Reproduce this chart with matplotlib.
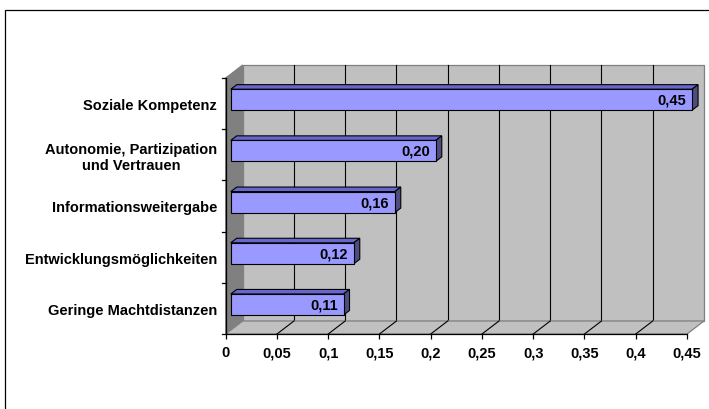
import matplotlib
matplotlib.use("Agg")
import numpy as np
import matplotlib.pyplot as plt
from matplotlib.patches import Polygon, Rectangle
from matplotlib.transforms import ScaledTranslation

# Data
categories = ["Soziale Kompetenz", "Autonomie, Partizipation\nund Vertrauen",
              "Informationsweitergabe", "Entwicklungsmöglichkeiten",
              "Geringe Machtdistanzen"]
values = [0.45, 0.20, 0.16, 0.12, 0.11]
value_labels = ["0,45", "0,20", "0,16", "0,12", "0,11"]
xticks = [0, 0.05, 0.1, 0.15, 0.2, 0.25, 0.3, 0.35, 0.4, 0.45]
xtick_labels = ["0", "0,05", "0,1", "0,15", "0,2", "0,25", "0,3", "0,35", "0,4", "0,45"]

FONT = "Liberation Sans"
FS = 10.5
DPI = 100
W, H = 709, 410

fig = plt.figure(figsize=(W / DPI, H / DPI), dpi=DPI)
fig.patch.set_facecolor("white")

# Outer chart frame
fig.patches.append(Rectangle((4.5 / W, -0.1), 1.2, 1 - 10.5 / H + 0.1,
                             transform=fig.transFigure, fill=False,
                             edgecolor="black", linewidth=0.9))

# Front plane of the 3D plot
left_px, right_px, top_px, bot_px = 225.7, 687.0, 79.0, 335.0
ax = fig.add_axes([left_px / W, 1 - bot_px / H,
                   (right_px - left_px) / W, (bot_px - top_px) / H])
ax.set_xlim(0, 0.45)
ax.set_ylim(len(categories) - 0.5, -0.5)
ax.patch.set_visible(False)
for s in ax.spines.values():
    s.set_visible(False)

# Depth of the 3D box in pixels (right, up)
DX, DY = 17.0, 13.0


def shift(frac):
    return ax.transData + ScaledTranslation(DX * frac / DPI, DY * frac / DPI,
                                            fig.dpi_scale_trans)


def poly(pts, **kw):
    ax.add_patch(Polygon(pts, closed=True, transform=None, clip_on=False, **kw))


def line(p, **kw):
    p = np.asarray(p)
    ax.plot(p[:, 0], p[:, 1], transform=None, clip_on=False, **kw)


x0, x1 = 0, xticks[-1]
y_top, y_bot = -0.5, len(categories) - 0.5
back = shift(1.0)
front = ax.transData
wall_edge = "#808080"

# Back wall
poly(back.transform([(x0, y_top), (x1, y_top), (x1, y_bot), (x0, y_bot)]),
     facecolor="#C0C0C0", edgecolor=wall_edge, linewidth=0.9, zorder=1)
for xv in xticks[1:-1]:
    line(back.transform([(xv, y_top), (xv, y_bot)]), color="black",
         linewidth=0.8, zorder=1.5)

# Left side wall
poly(np.vstack([front.transform([(x0, y_top), (x0, y_bot)]),
                back.transform([(x0, y_bot), (x0, y_top)])]),
     facecolor="#808080", edgecolor=wall_edge, linewidth=0.9, zorder=2)

# Floor
poly(np.vstack([front.transform([(x0, y_bot), (x1, y_bot)]),
                back.transform([(x1, y_bot), (x0, y_bot)])]),
     facecolor="#C0C0C0", edgecolor=wall_edge, linewidth=0.9, zorder=2)
for xv in xticks[1:-1]:
    line(np.vstack([front.transform([(xv, y_bot)]), back.transform([(xv, y_bot)])]),
         color="black", linewidth=0.8, zorder=2.5)

# 3D bars
BAR_H = 0.41
bar_front = shift(0.30)
bar_back = shift(0.65)
for i, v in enumerate(values):
    yt, yb = i - BAR_H / 2, i + BAR_H / 2
    # top face
    poly(np.vstack([bar_front.transform([(0, yt), (v, yt)]),
                    bar_back.transform([(v, yt), (0, yt)])]),
         facecolor="#6666CC", edgecolor="black", linewidth=0.8, zorder=3)
    # side face
    poly(np.vstack([bar_front.transform([(v, yt), (v, yb)]),
                    bar_back.transform([(v, yb), (v, yt)])]),
         facecolor="#4D4D80", edgecolor="black", linewidth=0.8, zorder=3)
    # front face
    ax.add_patch(Rectangle((0, yt), v, BAR_H, transform=bar_front,
                           facecolor="#9999FF", edgecolor="black",
                           linewidth=0.8, zorder=4, clip_on=False))
    ax.text(v, i, value_labels[i],
            transform=bar_front + ScaledTranslation(-6 / DPI, 0, fig.dpi_scale_trans),
            ha="right", va="center", fontsize=FS, fontweight="bold",
            family=FONT, color="black", zorder=5)

# Front axis lines
line(front.transform([(x0, y_bot), (x1, y_bot)]), color="black",
     linewidth=0.9, zorder=6)
line(front.transform([(x0, y_top), (x0, y_bot)]), color="black",
     linewidth=0.9, zorder=6)

# Ticks and labels
ax.set_xticks(xticks)
ax.set_xticklabels(xtick_labels, fontsize=FS, fontweight="bold", family=FONT)
ax.set_yticks(range(len(categories)))
ax.set_yticklabels(categories, fontsize=FS, fontweight="bold", family=FONT)
ax.tick_params(axis="x", length=5 * 0.72, width=0.9, pad=4.5, color="black")
ax.tick_params(axis="y", length=0, pad=8.7 * 0.72)
for t in ax.get_yticklabels():
    t.set_multialignment("center")
# category separator ticks on the vertical axis
for b in np.arange(-0.5, len(categories), 1.0):
    p = front.transform([(0, b)])[0]
    line([(p[0] - 4, p[1]), (p[0], p[1])], color="black", linewidth=0.9,
         zorder=6)

fig.savefig("out.png", dpi=DPI)
